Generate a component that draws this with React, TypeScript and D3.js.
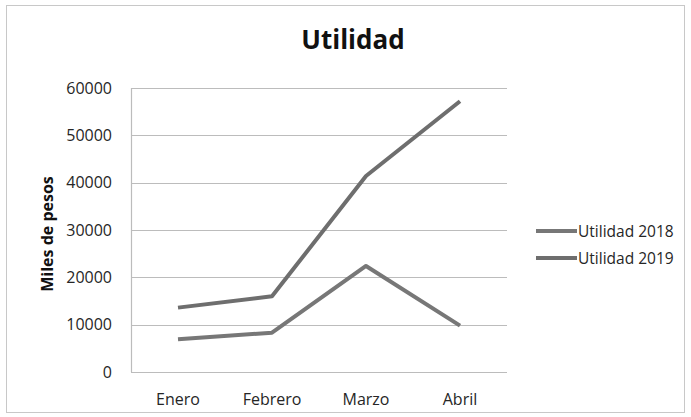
import * as d3 from "d3";
import React from "react";

const months = ["Enero", "Febrero", "Marzo", "Abril"];
const utilidad2018 = [6900, 8300, 22400, 9800];
const utilidad2019 = [13600, 16000, 41400, 57200];
const yTicks = [0, 10000, 20000, 30000, 40000, 50000, 60000];
const seriesNames = ["Utilidad 2018", "Utilidad 2019"];

const width = 691;
const height = 417;
const font = "'Open Sans', 'Noto Sans', sans-serif";

export default function App() {
  const svgRef = React.useRef<SVGSVGElement>(null);
  const margin = { top: 88, right: 184, bottom: 45, left: 131 };

  React.useEffect(() => {
    const svg = d3.select(svgRef.current);
    svg.selectAll("*").remove();

    // frame
    svg
      .append("rect")
      .attr("x", 6.5)
      .attr("y", 5.5)
      .attr("width", width - 13)
      .attr("height", height - 10)
      .attr("fill", "#fff")
      .attr("stroke", "#c8c8c8");

    const x = d3
      .scaleBand()
      .domain(months)
      .range([margin.left, width - margin.right]);

    const y = d3
      .scaleLinear()
      .domain([0, 60000])
      .range([height - margin.bottom, margin.top]);

    // gridlines
    svg
      .append("g")
      .selectAll("line")
      .data(yTicks)
      .join("line")
      .attr("x1", margin.left)
      .attr("x2", width - margin.right)
      .attr("y1", (d) => Math.round(y(d)) + 0.5)
      .attr("y2", (d) => Math.round(y(d)) + 0.5)
      .attr("stroke", "#bcbcbc")
      .attr("stroke-width", 1.2);

    // y axis line
    svg
      .append("line")
      .attr("x1", margin.left + 0.5)
      .attr("x2", margin.left + 0.5)
      .attr("y1", y(60000))
      .attr("y2", y(0))
      .attr("stroke", "#bcbcbc")
      .attr("stroke-width", 1.2);

    // y tick labels
    svg
      .append("g")
      .selectAll("text")
      .data(yTicks)
      .join("text")
      .attr("x", margin.left - 19)
      .attr("y", (d) => y(d))
      .attr("dy", "0.36em")
      .attr("text-anchor", "end")
      .attr("font-family", font)
      .attr("font-size", 16)
      .attr("fill", "#262626")
      .text((d) => d);

    // x labels
    svg
      .append("g")
      .selectAll("text")
      .data(months)
      .join("text")
      .attr("x", (d) => (x(d) ?? 0) + x.bandwidth() / 2)
      .attr("y", 405)
      .attr("text-anchor", "middle")
      .attr("font-family", font)
      .attr("font-size", 16)
      .attr("fill", "#262626")
      .text((d) => d);

    // lines
    const line = d3
      .line<number>()
      .x((_, i) => (x(months[i]) ?? 0) + x.bandwidth() / 2)
      .y((d) => y(d));

    [utilidad2018, utilidad2019].forEach((vals, i) => {
      svg
        .append("path")
        .datum(vals)
        .attr("d", line)
        .attr("fill", "none")
        .attr("stroke", i === 0 ? "#777777" : "#6e6e6e")
        .attr("stroke-width", 4)
        .attr("stroke-linejoin", "round");
    });

    // title
    svg
      .append("text")
      .attr("x", 353)
      .attr("y", 49)
      .attr("text-anchor", "middle")
      .attr("font-family", font)
      .attr("font-weight", "bold")
      .attr("font-size", 26)
      .attr("fill", "#111")
      .text("Utilidad");

    // y axis title
    svg
      .append("text")
      .attr("transform", `translate(53, ${(y(0) + y(60000)) / 2 + 4}) rotate(-90)`)
      .attr("text-anchor", "middle")
      .attr("font-family", font)
      .attr("font-weight", "bold")
      .attr("font-size", 16)
      .attr("fill", "#111")
      .text("Miles de pesos");

    // legend
    const legend = svg
      .append("g")
      .selectAll("g")
      .data(seriesNames)
      .join("g")
      .attr("transform", (_, i) => `translate(536, ${231 + i * 27})`);

    legend
      .append("line")
      .attr("x1", 0)
      .attr("x2", 41)
      .attr("stroke", (_, i) => (i === 0 ? "#777777" : "#6e6e6e"))
      .attr("stroke-width", 4);

    legend
      .append("text")
      .attr("x", 42)
      .attr("dy", "0.36em")
      .attr("font-family", font)
      .attr("font-size", 15.5)
      .attr("fill", "#262626")
      .text((d) => d);
  }, []);

  return (
    <svg
      ref={svgRef}
      width={width}
      height={height}
      viewBox={`0 0 ${width} ${height}`}
      style={{ position: "absolute", left: 0, top: 0, background: "#fff" }}
    ></svg>
  );
}
